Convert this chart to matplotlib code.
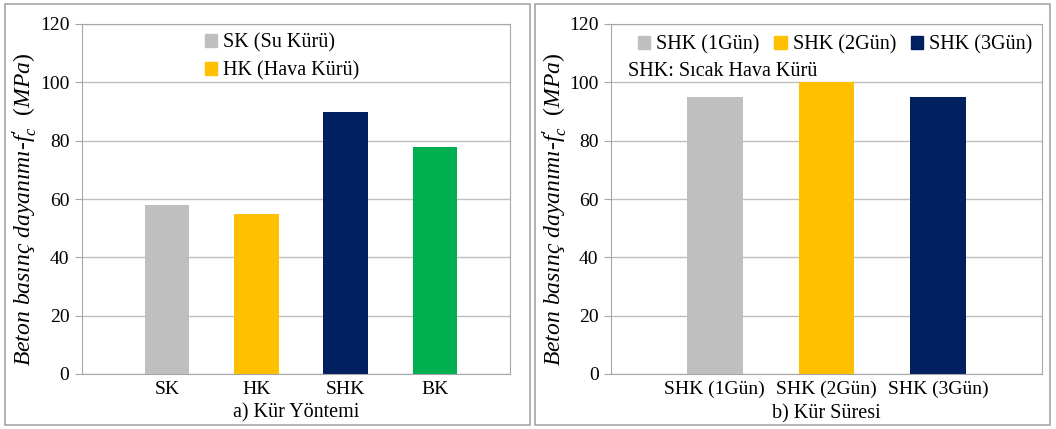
import matplotlib.pyplot as plt
from matplotlib.patches import Rectangle, Patch

plt.rcParams['font.family'] = ['Liberation Serif', 'DejaVu Serif']
plt.rcParams['mathtext.fontset'] = 'custom'
plt.rcParams['mathtext.it'] = 'Liberation Serif:italic'
plt.rcParams['mathtext.rm'] = 'Liberation Serif'

# panel a
methods = ["SK", "HK", "SHK", "BK"]
method_vals = [58, 55, 90, 78]
method_colors = ["#BFBFBF", "#FFC000", "#002060", "#00B050"]
method_legend = ["SK (Su Kürü)", "HK (Hava Kürü)"]

# panel b
durations = ["SHK (1Gün)", "SHK (2Gün)", "SHK (3Gün)"]
duration_vals = [95, 100, 95]
duration_colors = ["#BFBFBF", "#FFC000", "#002060"]

ylab = r"Beton basınç dayanımı-$f^{\prime}_{c}$  $(MPa)$"
edge = "#A6A6A6"

fig = plt.figure(figsize=(10.56, 4.29), dpi=100)
W, H = 1056, 429
ax1 = fig.add_axes([82 / W, 1 - 374 / H, (510 - 82) / W, (374 - 24) / H])
ax2 = fig.add_axes([611 / W, 1 - 374 / H, (1042 - 611) / W, (374 - 24) / H])

# panel frames
fig.patches.append(Rectangle((5 / W, 4 / H), (530 - 5) / W, (425 - 4) / H,
                             transform=fig.transFigure, fill=False,
                             edgecolor=edge, lw=1.2))
fig.patches.append(Rectangle((535 / W, 4 / H), (1050 - 535) / W, (425 - 4) / H,
                             transform=fig.transFigure, fill=False,
                             edgecolor=edge, lw=1.2))


def style(ax, xlab):
    ax.set_ylim(0, 120)
    ax.set_yticks(range(0, 121, 20))
    ax.yaxis.grid(True, color="#BFBFBF", lw=1.0)
    ax.set_axisbelow(True)
    for s in ax.spines.values():
        s.set_color(edge)
    ax.tick_params(axis="y", length=5, color=edge, labelsize=14, pad=4)
    ax.tick_params(axis="x", length=0, labelsize=14, pad=5)
    ax.set_ylabel(ylab, fontsize=17, style="italic")
    ax.yaxis.set_label_coords(xlab, 0.47)


ax1.bar(range(len(methods)), method_vals, width=0.5, color=method_colors)
ax1.set_xticks(range(len(methods)))
ax1.set_xticklabels(methods)
ax1.set_xlim(-0.95, 3.84)
style(ax1, -0.1)
ax1.set_xlabel("a) Kür Yöntemi", fontsize=14.5, labelpad=4)
h1 = [Patch(color=c) for c in method_colors[:2]]
ax1.legend(h1, method_legend, loc="upper left", bbox_to_anchor=(0.245, 1.025),
           frameon=False, fontsize=14.5, handlelength=0.6, handleheight=0.6,
           handletextpad=0.3, labelspacing=0.45)

ax2.bar(range(len(durations)), duration_vals, width=0.5, color=duration_colors)
ax2.set_xticks(range(len(durations)))
ax2.set_xticklabels(durations)
ax2.set_xlim(-0.93, 2.93)
style(ax2, -0.097)
ax2.set_xlabel("b) Kür Süresi", fontsize=14.5, labelpad=4)
h2 = [Patch(color=c) for c in duration_colors]
ax2.legend(h2, durations, loc="upper center", bbox_to_anchor=(0.52, 1.02),
           ncol=3, frameon=False, fontsize=14.5, handlelength=0.6, handleheight=0.6,
           handletextpad=0.3, columnspacing=0.75)
ax2.text(0.04, 0.865, "SHK: Sıcak Hava Kürü", transform=ax2.transAxes,
         fontsize=14.5, va="center", ha="left")

fig.savefig("out.png", dpi=100)
